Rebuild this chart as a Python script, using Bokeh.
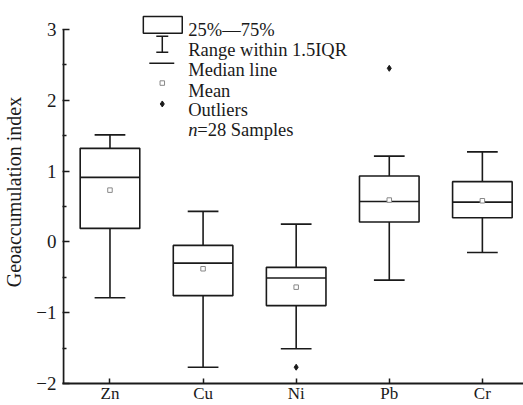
from bokeh.plotting import figure
from bokeh.models import Range1d, FixedTicker, Label
from bokeh.embed import file_html
from bokeh.resources import INLINE

# ---- data ----
categories = ["Zn", "Cu", "Ni", "Pb", "Cr"]
lower_whisker = [-0.79, -1.77, -1.51, -0.54, -0.15]
q1 = [0.19, -0.76, -0.90, 0.28, 0.34]
median = [0.91, -0.30, -0.51, 0.57, 0.56]
mean = [0.73, -0.38, -0.64, 0.59, 0.58]
q3 = [1.32, -0.05, -0.36, 0.93, 0.85]
upper_whisker = [1.51, 0.43, 0.25, 1.21, 1.27]
outlier_cat = ["Pb", "Ni"]
outlier_val = [2.45, -1.77]
y_ticks = [-2, -1, 0, 1, 2, 3]
y_minor = [-1.5, -0.5, 0.5, 1.5, 2.5]

# ---- layout constants (pixels) ----
W, H = 523, 405
FL = 61          # frame left
FB = 385         # frame bottom (expected)
TOP3 = 29        # pixel row of y=3
PXU = 93.3       # px per x unit
PYU = (FB - TOP3) / 5.0
XS = 0.49
XE = XS + (W - FL) / PXU
YS = -2
YE = YS + FB / PYU

def dx(px):
    return XS + (px - FL) / PXU

def dy(py):
    return YS + (FB - py) / PYU

FONT = "Liberation Serif"
INK = "#1a1a1a"

xs = [i + 1 for i in range(len(categories))]
xmap = {c: i + 1 for i, c in enumerate(categories)}
ox = [xmap[c] for c in outlier_cat]

p = figure(width=W, height=H, output_backend="svg", toolbar_location=None,
           x_range=Range1d(XS, XE), y_range=Range1d(YS, YE),
           min_border_left=FL, min_border_right=0, min_border_top=0,
           min_border_bottom=0)
p.outline_line_color = None
p.xgrid.visible = False
p.ygrid.visible = False
p.background_fill_color = "white"
p.border_fill_color = "white"

BOXW = 0.64
CAPW = 0.33

# whiskers
p.segment(x0=xs, y0=q3, x1=xs, y1=upper_whisker, line_color=INK, line_width=1.6)
p.segment(x0=xs, y0=q1, x1=xs, y1=lower_whisker, line_color=INK, line_width=1.6)
p.segment(x0=[x - CAPW / 2 for x in xs], y0=upper_whisker,
          x1=[x + CAPW / 2 for x in xs], y1=upper_whisker, line_color=INK, line_width=1.6)
p.segment(x0=[x - CAPW / 2 for x in xs], y0=lower_whisker,
          x1=[x + CAPW / 2 for x in xs], y1=lower_whisker, line_color=INK, line_width=1.6)
# boxes
p.vbar(x=xs, width=BOXW, top=q3, bottom=q1, fill_color="white",
       line_color=INK, line_width=1.6)
# median
p.segment(x0=[x - BOXW / 2 for x in xs], y0=median,
          x1=[x + BOXW / 2 for x in xs], y1=median, line_color=INK, line_width=1.6)
# mean
p.scatter(x=xs, y=mean, marker="square", size=4.5, fill_color="white",
          line_color="#888888", line_width=1)
# outliers
p.scatter(x=ox, y=outlier_val, marker="diamond", size=6, fill_color=INK,
          line_color=INK)

# y axis line (stops at 3)
p.segment(x0=[0.5], y0=[YS], x1=[0.5], y1=[3], line_color=INK, line_width=2)

# axes
xa = p.xaxis[0]
xa.ticker = FixedTicker(ticks=xs)
xa.major_label_overrides = {x: c for x, c in zip(xs, categories)}
xa.major_tick_in = 5
xa.major_tick_out = 0
xa.minor_tick_line_color = None
xa.axis_line_width = 2
xa.axis_line_color = INK
xa.major_tick_line_color = INK
xa.major_tick_line_width = 1.5
xa.major_label_text_font = FONT
xa.major_label_text_font_size = "17px"
xa.major_label_text_color = INK
xa.major_label_standoff = 0

ya = p.yaxis[0]
ya.ticker = FixedTicker(ticks=y_ticks, minor_ticks=y_minor)
ya.major_label_overrides = {t: (("\u2212" + str(-t)) if t < 0 else str(t)) for t in y_ticks}
ya.axis_line_color = None
ya.major_tick_in = 7
ya.major_tick_out = 0
ya.minor_tick_in = 4
ya.minor_tick_out = 0
ya.major_tick_line_color = INK
ya.minor_tick_line_color = INK
ya.major_tick_line_width = 1.5
ya.minor_tick_line_width = 1.5
ya.major_label_text_font = FONT
ya.major_label_text_font_size = "19px"
ya.major_label_text_color = INK
ya.major_label_standoff = 6
ya.axis_label = "Geoaccumulation index"
ya.axis_label_text_font = FONT
ya.axis_label_text_font_size = "20px"
ya.axis_label_text_font_style = "normal"
ya.axis_label_text_color = INK
ya.axis_label_standoff = 8

# ---- legend (drawn by hand) ----
p.quad(left=[dx(142)], right=[dx(181)], top=[dy(16)], bottom=[dy(33)],
       fill_color="white", line_color=INK, line_width=1.5)
p.segment(x0=[dx(161)], y0=[dy(36)], x1=[dx(161)], y1=[dy(52)], line_color=INK, line_width=1.5)
p.segment(x0=[dx(155), dx(155)], y0=[dy(36), dy(52)], x1=[dx(167), dx(167)],
          y1=[dy(36), dy(52)], line_color=INK, line_width=1.5)
p.segment(x0=[dx(148)], y0=[dy(63)], x1=[dx(173)], y1=[dy(63)], line_color=INK, line_width=1.5)
p.scatter(x=[dx(161)], y=[dy(83)], marker="square", size=4.5, fill_color="white",
          line_color="#888888", line_width=1)
p.scatter(x=[dx(161)], y=[dy(104)], marker="diamond", size=6, fill_color=INK, line_color=INK)

LFS = "18.5px"
leg_texts = ["25%\u201475%", "Range within 1.5IQR", "Median line", "Mean", "Outliers"]
leg_base = [30, 50, 70, 91, 110]
for t, b in zip(leg_texts, leg_base):
    p.add_layout(Label(x=dx(187), y=dy(b), text=t, text_font=FONT, text_font_size=LFS,
                       text_color=INK, text_baseline="alphabetic"))
p.add_layout(Label(x=dx(187), y=dy(130), text="n", text_font=FONT, text_font_size=LFS,
                   text_font_style="italic", text_color=INK, text_baseline="alphabetic"))
p.add_layout(Label(x=dx(196), y=dy(130), text="=28 Samples", text_font=FONT,
                   text_font_size=LFS, text_color=INK, text_baseline="alphabetic"))

open("out.html", "w").write(file_html(p, INLINE))
